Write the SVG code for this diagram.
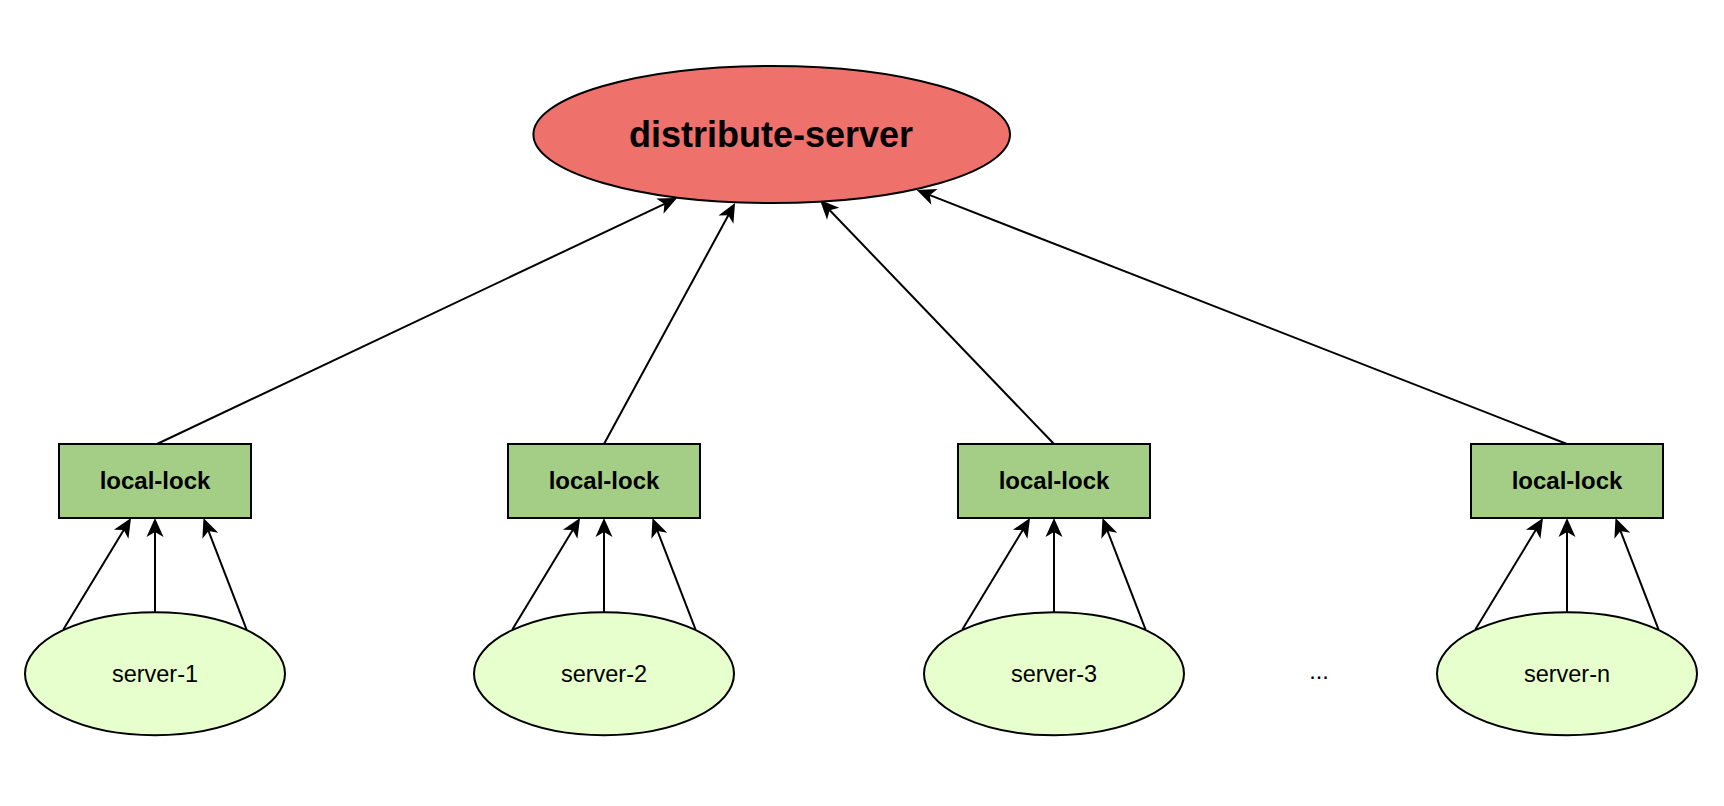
<svg xmlns="http://www.w3.org/2000/svg" width="1724" height="806" viewBox="0 0 1724 806">
<style>
.bg{fill:#ffffff}
.top{fill:#EF716C;stroke:#000;stroke-width:2}
.lock{fill:#A4CD85;stroke:#000;stroke-width:2}
.srv{fill:#E6FFCC;stroke:#000;stroke-width:2}
.edge{fill:none;stroke:#000;stroke-width:2;marker-end:url(#arr)}
text{font-family:"Liberation Sans",Arial,Helvetica,sans-serif;fill:#000;text-anchor:middle}
.t-top{font-size:36px;font-weight:bold}
.t-lock{font-size:24px;font-weight:bold}
.t-srv{font-size:23.5px}
</style>
<defs>
<marker id="arr" markerUnits="userSpaceOnUse" markerWidth="26" markerHeight="22" viewBox="-22 -11 26 22" refX="-12" refY="0" orient="auto">
<path d="M0,0 L-19,-8.5 L-14,0 L-19,8.5 Z" fill="#000"/>
</marker>
</defs>
<rect class="bg" x="0" y="0" width="1724" height="806"/>
<g id="connectors">
<path class="edge" d="M157,444 L666.2,203.1"/>
<path class="edge" d="M604,444 L729.3,213.5"/>
<path class="edge" d="M1054,444 L828.3,208.7"/>
<path class="edge" d="M1567,444 L927.9,194.4"/>
<path class="edge" d="M63.5,629.3 L124.8,528.3"/>
<path class="edge" d="M155,612 L155,530"/>
<path class="edge" d="M246.5,629.3 L207.8,529.2"/>
<path class="edge" d="M512.5,629.3 L573.8,528.3"/>
<path class="edge" d="M604,612 L604,530"/>
<path class="edge" d="M695.5,629.3 L656.8,529.2"/>
<path class="edge" d="M962.5,629.3 L1023.8,528.3"/>
<path class="edge" d="M1054,612 L1054,530"/>
<path class="edge" d="M1145.5,629.3 L1106.8,529.2"/>
<path class="edge" d="M1475.5,629.3 L1536.8,528.3"/>
<path class="edge" d="M1567,612 L1567,530"/>
<path class="edge" d="M1658.5,629.3 L1619.8,529.2"/>
</g>
<g id="distribute-server">
<ellipse class="top" cx="771.7" cy="134.5" rx="238.3" ry="68.5"/>
<text class="t-top" x="771" y="147">distribute-server</text>
</g>
<g id="local-lock-1">
<rect class="lock" x="59" y="444" width="192" height="74"/>
<text class="t-lock" x="155" y="489">local-lock</text>
</g>
<g id="local-lock-2">
<rect class="lock" x="508" y="444" width="192" height="74"/>
<text class="t-lock" x="604" y="489">local-lock</text>
</g>
<g id="local-lock-3">
<rect class="lock" x="958" y="444" width="192" height="74"/>
<text class="t-lock" x="1054" y="489">local-lock</text>
</g>
<g id="local-lock-n">
<rect class="lock" x="1471" y="444" width="192" height="74"/>
<text class="t-lock" x="1567" y="489">local-lock</text>
</g>
<g id="server-1">
<ellipse class="srv" cx="155" cy="673.7" rx="130" ry="61.5"/>
<text class="t-srv" x="155" y="682">server-1</text>
</g>
<g id="server-2">
<ellipse class="srv" cx="604" cy="673.7" rx="130" ry="61.5"/>
<text class="t-srv" x="604" y="682">server-2</text>
</g>
<g id="server-3">
<ellipse class="srv" cx="1054" cy="673.7" rx="130" ry="61.5"/>
<text class="t-srv" x="1054" y="682">server-3</text>
</g>
<g id="server-n">
<ellipse class="srv" cx="1567" cy="673.7" rx="130" ry="61.5"/>
<text class="t-srv" x="1567" y="682">server-n</text>
</g>
<g id="ellipsis">
<text class="t-srv" x="1319" y="679">...</text>
</g>
</svg>
